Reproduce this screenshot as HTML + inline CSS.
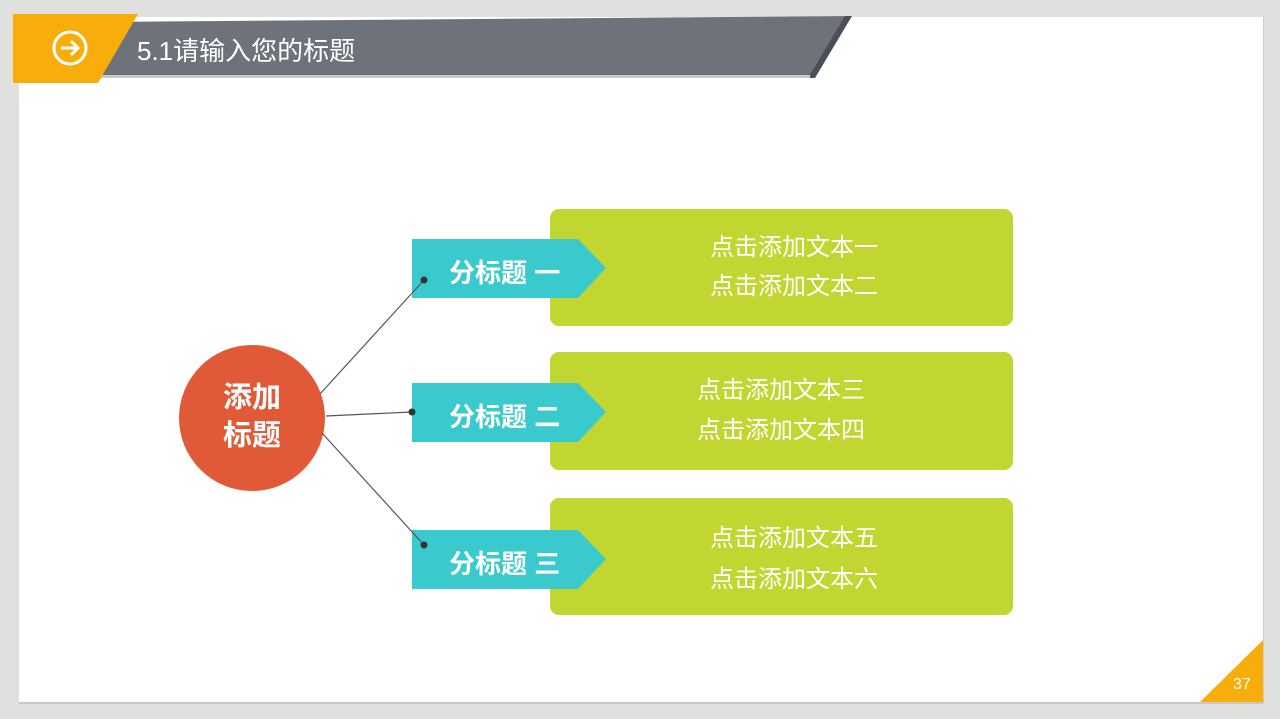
<!DOCTYPE html>
<html><head><meta charset="utf-8"><style>
body{margin:0;width:1280px;height:719px;background:#e0e0de;position:relative;overflow:hidden;font-family:"Liberation Sans","Noto Sans CJK SC",sans-serif}
.abs{position:absolute}
.tx{color:#fff;white-space:nowrap}
</style></head><body>
<div class="abs" style="left:19px;top:17px;width:1244px;height:685px;background:#fff;border-bottom:2px solid #c8c8c8;border-right:1px solid #ccc"></div>
<svg class="abs" style="left:0;top:0" width="1280" height="719">
<polygon points="100,22 852,16 812,76 94,76" fill="#6e737b"/>
<polygon points="845,16 852,16 815,78 808,78" fill="#4a5058"/>
<rect x="100" y="75" width="710" height="3" fill="#c9cacc"/>
<polygon points="13,14 138,14 98,83 13,83" fill="#f9ad0b"/>
<circle cx="70" cy="48" r="16" fill="none" stroke="#fff" stroke-width="3"/>
<path d="M61,48 H78 M71,41 L78,48 L71,55" fill="none" stroke="#fff" stroke-width="3"/>
<polygon points="1200,702 1263,640 1263,702" fill="#f9ad0b"/>
<circle cx="252" cy="418" r="73" fill="#e05a38"/>
<rect x="550" y="209" width="463" height="117" rx="9" fill="#c2d631"/>
<rect x="550" y="352" width="463" height="118" rx="9" fill="#c2d631"/>
<rect x="550" y="498" width="463" height="117" rx="9" fill="#c2d631"/>
<polygon points="412,239 578,239 606,268 578,298 412,298" fill="#3acacd"/>
<polygon points="412,383 578,383 606,412 578,442 412,442" fill="#3acacd"/>
<polygon points="412,530 578,530 606,559 578,589 412,589" fill="#3acacd"/>
<line x1="320" y1="394" x2="424" y2="280" stroke="#555" stroke-width="1.2"/>
<line x1="326" y1="416" x2="412" y2="412" stroke="#555" stroke-width="1.2"/>
<line x1="322" y1="433" x2="424" y2="545" stroke="#555" stroke-width="1.2"/>
<circle cx="424" cy="280" r="3.5" fill="#333"/>
<circle cx="412" cy="412" r="3.5" fill="#333"/>
<circle cx="424" cy="545" r="3.5" fill="#333"/>
</svg>
<div class="abs tx" style="left:137px;top:31px;font-size:26px">5.1请输入您的标题</div>
<div class="abs tx" style="left:1233px;top:676px;font-size:16px">37</div>
<div class="abs tx" style="left:179px;top:379px;width:146px;text-align:center;font-size:29px;font-weight:bold;line-height:38px">添加<br>标题</div>
<div class="abs tx" style="left:449px;top:253px;font-size:26px;font-weight:bold">分标题 一</div>
<div class="abs tx" style="left:449px;top:397px;font-size:26px;font-weight:bold">分标题 二</div>
<div class="abs tx" style="left:449px;top:544px;font-size:26px;font-weight:bold">分标题 三</div>
<div class="abs tx" style="left:710px;top:228px;font-size:24px;line-height:39px">点击添加文本一<br>点击添加文本二</div>
<div class="abs tx" style="left:697px;top:371px;font-size:24px;line-height:40px">点击添加文本三<br>点击添加文本四</div>
<div class="abs tx" style="left:710px;top:518px;font-size:24px;line-height:41px">点击添加文本五<br>点击添加文本六</div>
</body></html>
